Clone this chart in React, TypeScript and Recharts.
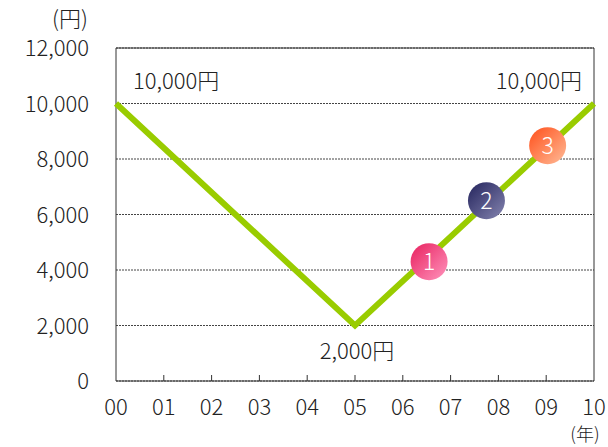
import {
  ComposedChart,
  Line,
  Scatter,
  XAxis,
  YAxis,
  CartesianGrid,
  ReferenceArea,
  LabelList,
} from "recharts"

const years = [0, 5, 10]
const prices = [10000, 2000, 10000]

const yearTicks = [0, 1, 2, 3, 4, 5, 6, 7, 8, 9, 10]
const priceTicks = [0, 2000, 4000, 6000, 8000, 10000, 12000]

const markerYears = [6.55, 7.75, 9.03]
const markerPrices = [4300, 6500, 8480]
const markerNames = ["1", "2", "3"]

const FONT = "'Noto Sans CJK JP', 'Noto Sans', sans-serif"
const FS = 22
const FW = 300

const priceData = years.map((y, i) => ({ year: y, price: prices[i] }))
const markerData = markerYears.map((y, i) => ({ year: y, price: markerPrices[i], name: markerNames[i] }))

const markerFills = ["url(#mk1)", "url(#mk2)", "url(#mk3)"]

function XTick(props: any) {
  const { x, y, payload, index } = props
  const v = payload.value as number
  return (
    <g>
      {index > 0 && index < 10 && <line x1={x} x2={x} y1={y - 6} y2={y} stroke="#333" strokeWidth={1} />}
      <text x={x} y={y + 34} textAnchor="middle" fontSize={FS} fontWeight={FW} fontFamily={FONT} fill="#222">
        {String(v).padStart(2, "0")}
      </text>
    </g>
  )
}

function YTick(props: any) {
  const { x, y, payload } = props
  return (
    <text x={x - 27} y={y + 8} textAnchor="end" fontSize={FS} fontWeight={FW} fontFamily={FONT} fill="#222">
      {(payload.value as number).toLocaleString("en-US")}
    </text>
  )
}

function PriceLabel(props: any) {
  const { x, y, value, index } = props
  const text = `${Number(value).toLocaleString("en-US")}円`
  const common = { fontSize: FS, fontWeight: FW, fontFamily: FONT, fill: "#222" }
  if (index === 0)
    return <text x={x + 17} y={y - 15} {...common}>{text}</text>
  if (index === 2)
    return <text x={x - 12} y={y - 15} textAnchor="end" {...common}>{text}</text>
  return <text x={x + 2} y={y + 33} textAnchor="middle" {...common}>{text}</text>
}

function Marker(props: any) {
  const { cx, cy, payload, index } = props
  return (
    <g>
      <circle cx={cx} cy={cy} r={18.5} fill={markerFills[index]} />
      <text x={cx} y={cy + 8} textAnchor="middle" fontSize={23} fontWeight={FW} fontFamily={FONT} fill="#fff">
        {payload.name}
      </text>
    </g>
  )
}

export default function App() {
  return (
    <div style={{ position: "absolute", left: 0, top: 0, background: "#fff" }}>
      <ComposedChart width={608} height={447} margin={{ top: 48, right: 14, left: 0, bottom: 0 }}>
        <defs>
          <linearGradient id="mk1" x1="0" y1="0" x2="1" y2="1">
            <stop offset="0%" stopColor="#e8205e" />
            <stop offset="100%" stopColor="#ff94bd" />
          </linearGradient>
          <linearGradient id="mk2" x1="0" y1="0" x2="1" y2="1">
            <stop offset="0%" stopColor="#23235c" />
            <stop offset="100%" stopColor="#8585b0" />
          </linearGradient>
          <linearGradient id="mk3" x1="0" y1="0" x2="1" y2="1">
            <stop offset="0%" stopColor="#ff4f1a" />
            <stop offset="100%" stopColor="#ffbc98" />
          </linearGradient>
        </defs>
        <CartesianGrid vertical={false} stroke="#444" strokeDasharray="2 1" />
        <XAxis
          dataKey="year"
          type="number"
          domain={[0, 10]}
          ticks={yearTicks}
          interval={0}
          height={66}
          tickSize={0}
          tickMargin={0}
          axisLine={false}
          tick={<XTick />}
        />
        <YAxis
          type="number"
          domain={[0, 12000]}
          ticks={priceTicks}
          interval={0}
          width={116}
          tickSize={0}
          tickMargin={0}
          axisLine={false}
          tick={<YTick />}
        />
        <ReferenceArea x1={0} x2={10} y1={0} y2={12000} fill="none" stroke="#333" strokeWidth={1} strokeOpacity={1} />
        <Line
          data={priceData}
          dataKey="price"
          stroke="#99cc00"
          strokeWidth={6}
          dot={false}
          activeDot={false}
          isAnimationActive={false}
        >
          <LabelList dataKey="price" content={<PriceLabel />} />
        </Line>
        <Scatter data={markerData} dataKey="price" shape={<Marker />} isAnimationActive={false} />
        <text x={70} y={27} textAnchor="middle" fontSize={FS} fontWeight={FW} fontFamily={FONT} fill="#222">(円)</text>
        <text x={585} y={441} textAnchor="middle" fontSize={18} fontWeight={FW} fontFamily={FONT} fill="#222">(年)</text>
      </ComposedChart>
    </div>
  )
}
